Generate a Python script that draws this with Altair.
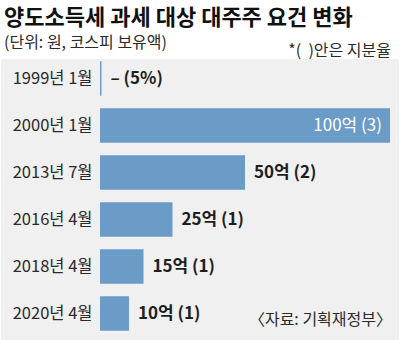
import altair as alt
import pandas as pd

periods = ["1999년 1월", "2000년 1월", "2013년 7월", "2016년 4월", "2018년 4월", "2020년 4월"]
amounts = [0.5, 100, 50, 25, 15, 10]  # 억원 (1999: 금액 기준 없음)
labels = ["– (5%)", "100억 (3)", "50억 (2)", "25억 (1)", "15억 (1)", "10억 (1)"]
inside = [False, True, False, False, False, False]

title_text = "양도소득세 과세 대상 대주주 요건 변화"
subtitle_text = "(단위: 원, 코스피 보유액)"
note_text = "*(\u00a0\u00a0)안은 지분율"
source_text = "〈자료: 기획재정부〉"

FONT = "Noto Sans CJK KR"
BAR = "#6b9bc7"
BG = "#f0f0f1"

df = pd.DataFrame({"period": periods, "amount": amounts, "label": labels, "inside": inside})
one = pd.DataFrame({"k": [0]})

y_enc = alt.Y("period:N", sort=periods, title=None,
              scale=alt.Scale(paddingInner=0.27, paddingOuter=0.135),
              axis=alt.Axis(domain=False, ticks=False, labelPadding=8, labelFontSize=16.5,
                            labelFont=FONT, labelColor="#2a2a2a", labelFontWeight="normal",
                            zindex=2))
x_enc = alt.X("amount:Q", scale=alt.Scale(domain=[0, 100]), axis=None)

panel = alt.Chart(one).mark_rect(color=BG).encode(
    x=alt.value(-99), x2=alt.value(299), y=alt.value(4), y2=alt.value(285))

bars = alt.Chart(df).mark_bar(color=BAR).encode(x=x_enc, y=y_enc)

out_labels = alt.Chart(df).transform_filter("!datum.inside").mark_text(
    align="left", baseline="middle", dx=9, font=FONT, fontSize=17, fontWeight="bold",
    color="#1e1e1e").encode(x=x_enc, y=y_enc, text="label:N")

in_labels = alt.Chart(df).transform_filter("datum.inside").mark_text(
    align="right", baseline="middle", dx=-8, font=FONT, fontSize=17, fontWeight="normal",
    color="white").encode(x=x_enc, y=y_enc, text="label:N")

def txt(t, x, y, size, align="left", weight="normal", color="#1e1e1e"):
    return alt.Chart(one).mark_text(align=align, baseline="middle", font=FONT, fontSize=size,
                                    fontWeight=weight, color=color).encode(
        x=alt.value(x), y=alt.value(y), text=alt.value(t))

title = txt(title_text, -96, -37, 22, weight="bold", color="#111111")
subtitle = txt(subtitle_text, -96, -12, 16, color="#2a2a2a")
note = txt(note_text, 291, -4, 16, align="right", color="#2a2a2a")
source = txt(source_text, 292, 265, 16, align="right", color="#2a2a2a")

chart = alt.layer(panel, bars, out_labels, in_labels, title, subtitle, note, source).properties(
    width=290, height=282,
    padding={"left": 100, "top": 55, "right": 10, "bottom": 6},
    autosize=alt.AutoSizeParams(type="none"),
    background="white",
).configure_view(stroke=None)

chart.save("out.html", embed_options={"renderer": "svg", "actions": False})
